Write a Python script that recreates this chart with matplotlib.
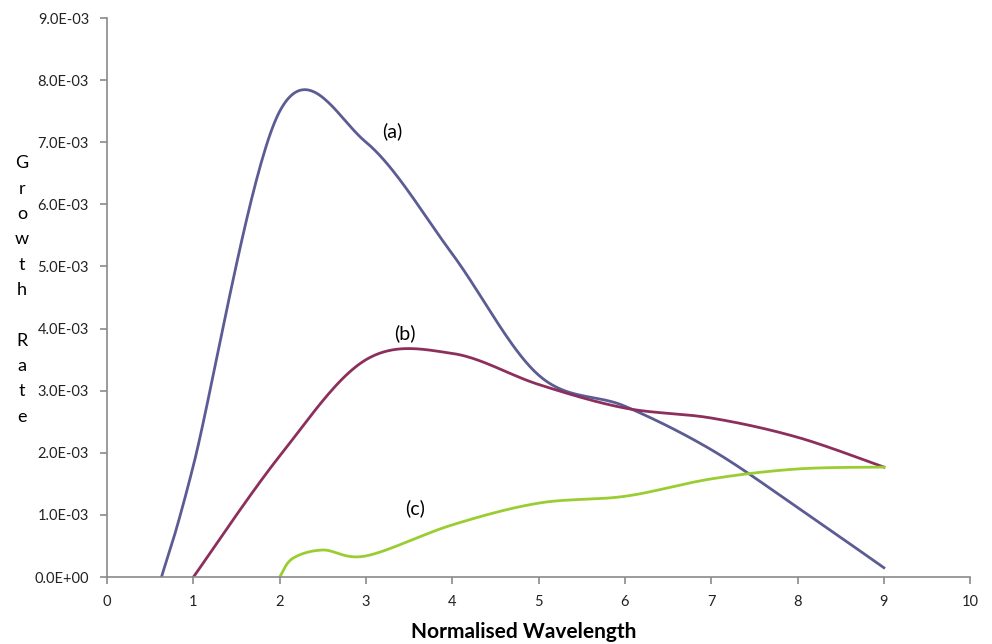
import matplotlib.pyplot as plt
import numpy as np

# data (growth rate in units of 1e-3)
x_a = [0.63, 1, 2, 3, 4, 5, 6, 7, 8, 9]
y_a = [0.0, 1.8, 7.5, 7.0, 5.2, 3.25, 2.75, 2.05, 1.12, 0.15]

x_b = [1, 2, 3, 4, 5, 6, 7, 8, 9]
y_b = [0.0, 1.95, 3.5, 3.6, 3.1, 2.72, 2.56, 2.25, 1.77]

x_c = [2, 2.15, 2.5, 3, 4, 5, 6, 7, 8, 9]
y_c = [0.0, 0.3, 0.435, 0.34, 0.84, 1.19, 1.3, 1.58, 1.74, 1.77]

labels = ["(a)", "(b)", "(c)"]
label_x = [3.3, 3.45, 3.57]
label_y = [7.18, 3.93, 1.11]


def smooth(xs, ys, n=40):
    # excel-like smoothed line: bezier segments through the points
    p = np.column_stack([xs, ys]).astype(float)
    p = np.vstack([p[0], p, p[-1]])
    out = []
    t = np.linspace(0, 1, n)[:, None]
    for i in range(1, len(p) - 2):
        p0, p1 = p[i], p[i + 1]
        c1 = p0 + (p[i + 1] - p[i - 1]) / 6
        c2 = p1 - (p[i + 2] - p[i]) / 6
        seg = ((1 - t) ** 3) * p0 + 3 * ((1 - t) ** 2) * t * c1 \
            + 3 * (1 - t) * t ** 2 * c2 + t ** 3 * p1
        out.append(seg)
    out = np.vstack(out)
    return out[:, 0], out[:, 1] * 1e-3


plt.rcParams["font.family"] = ["Lato", "DejaVu Sans"]

fig = plt.figure(figsize=(9.92, 6.44), dpi=100)
ax = fig.add_axes([0.108, 0.104, 0.87, 0.868])

colors = ["#5c5c94", "#8c2f5c", "#9acd32"]
for (xs, ys), col in zip([(x_a, y_a), (x_b, y_b), (x_c, y_c)], colors):
    sx, sy = smooth(xs, ys)
    ax.plot(sx, sy, color=col, linewidth=2)

for lab, lx, ly in zip(labels, label_x, label_y):
    ax.text(lx, ly * 1e-3, lab, fontsize=14, ha="center", va="center")

ax.set_xlim(0, 10)
ax.set_ylim(0, 9e-3)
ax.set_xticks(range(0, 11))
yt = np.arange(0, 10) * 1e-3
ax.set_yticks(yt)
ax.set_yticklabels(["%.1E" % v for v in yt])

for side in ["top", "right"]:
    ax.spines[side].set_visible(False)
for side in ["left", "bottom"]:
    ax.spines[side].set_color("#8a8a8a")
    ax.spines[side].set_linewidth(1.2)
ax.tick_params(colors="#8a8a8a", labelcolor="#222222", labelsize=10.5, length=5, width=1.2)
ax.tick_params(axis="x", pad=8)
ax.tick_params(axis="y", pad=8)

fig.text(524 / 992, 1 - 632 / 644, "Normalised Wavelength", fontsize=15,
         fontweight="bold", ha="center", va="center")
fig.text(22 / 992, 1 - 290 / 644, "G\nr\no\nw\nt\nh\n\nR\na\nt\ne", fontsize=13,
         ha="center", va="center", multialignment="center", linespacing=1.72)

fig.savefig("out.png", dpi=100)
